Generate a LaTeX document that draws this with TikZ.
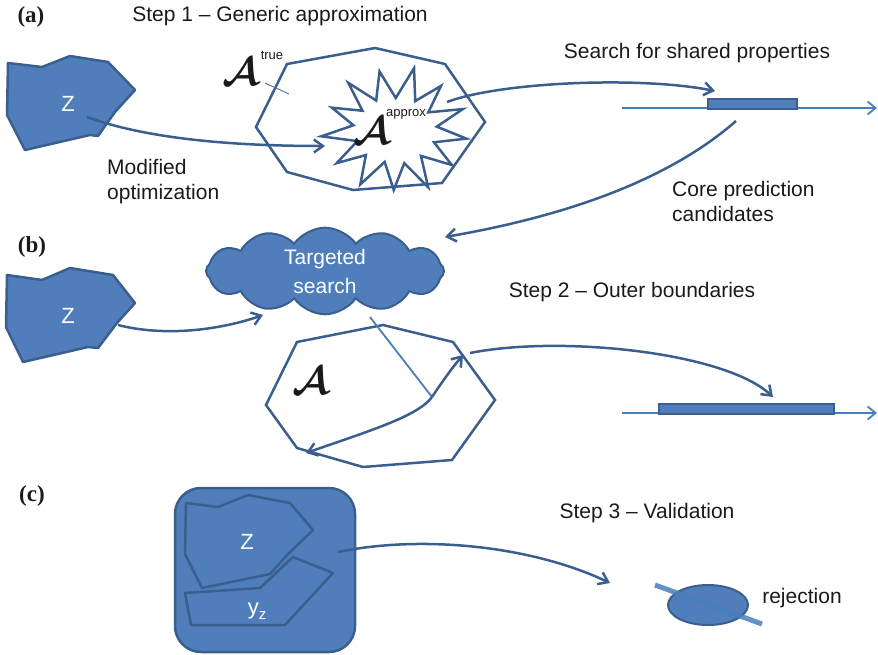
\documentclass[tikz,border=0pt]{standalone}
\usepackage{fontspec}
\setmainfont{Liberation Sans}
\newfontfamily\serifbf{Liberation Serif}
\usetikzlibrary{arrows.meta,shapes.symbols,shapes.geometric,calc}
\definecolor{fillblue}{HTML}{4F7EBA}
\definecolor{edgeblue}{HTML}{3A5F8E}
\definecolor{lineblue}{HTML}{4A7EBB}
\definecolor{txt}{HTML}{1A1A1A}
\newcommand\bigcalA{\scalebox{1.6}{\boldmath$\mathcal{A}$}}
\tikzset{
  blob/.style={fill=fillblue, draw=edgeblue, line width=2.5pt, line join=round},
  outline/.style={draw=edgeblue, line width=2.5pt, line join=miter},
  conn/.style={draw=edgeblue, line width=2.5pt, -{Straight Barb[length=9pt,width=13pt]}},
  axisline/.style={draw=lineblue, line width=1.8pt, -{Straight Barb[length=8pt,width=13pt]}},
  barbox/.style={fill=fillblue, draw=edgeblue, line width=2pt},
  lbl/.style={font=\fontsize{21}{25}\selectfont, text=txt, inner sep=0pt},
  panel/.style={font=\serifbf\bfseries\fontsize{23}{26}\selectfont, text=txt, inner sep=0pt},
  wlbl/.style={text=white, font=\fontsize{22}{26}\selectfont, inner sep=0pt},
  calA/.style={font=\fontsize{24.88}{26}\selectfont, text=txt, inner sep=0pt},
  supl/.style={font=\fontsize{13}{15}\selectfont, text=txt, inner sep=0pt}
}
\begin{document}
\begin{tikzpicture}[x=1pt,y=-1pt]
\useasboundingbox (0,0) rectangle (878,654);

% ---------- (a) ----------
\node[panel] (pa) at (31,17) {(a)};
\node[lbl] (t1) at (280,16) {Step 1 – Generic approximation};

\draw[blob] (8,63) -- (42,67) -- (70,56) -- (108,62) -- (135,90) -- (115,112)
  -- (98,136) -- (90,135) -- (25,150) -- (7,115) -- cycle;
\node[wlbl] (za) at (68,104) {Z};
\coordinate (zastart) at (87,117);

\draw[outline] (287,64) -- (375,48) -- (445,64) -- (485,122) -- (442,183)
  -- (353,190) -- (287,172) -- (256,127) -- cycle;
\begin{scope}[shift={(395,130)}]
\draw[outline] (8:72 and 62) \foreach \k/\rx/\ry in {
   1/42/33, 2/70/60, 3/40/34, 4/74/64, 5/42/34, 6/68/60, 7/40/33, 8/72/62,
   9/43/34, 10/70/60, 11/40/33, 12/74/62, 13/42/34, 14/68/60, 15/40/33,
   16/72/62, 17/42/33, 18/70/60, 19/40/32, 20/74/64, 21/42/33, 22/68/60,
   23/40/32, 24/72/62, 25/42/33} {
  -- ({8+\k*180/13}:\rx\space and \ry) } -- cycle;
\end{scope}

\node[calA] (atrue) at (241,72) {\bigcalA};
\node[supl] (atruesup) at (272,55) {true};
\coordinate (tl1) at (265,83);
\coordinate (tl2) at (289,94);
\draw[lineblue, line width=1pt] (tl1) -- (tl2);

\node[calA] (aapprox) at (372,131) {\bigcalA};
\node[supl] (aapproxsup) at (406,114) {approx};

\coordinate (starin) at (325,146);
\draw[conn] (zastart) .. controls (150,140) and (240,146) .. (starin);
\node[lbl, anchor=west, align=left] (mod) at (107,182) {Modified\\optimization};

\node[lbl] (search) at (697,53) {Search for shared properties};
\coordinate (ax1s) at (622,108);
\coordinate (ax1e) at (877,108);
\draw[axisline] (ax1s) -- (ax1e);
\draw[barbox] (708,99) rectangle (797,109);
\coordinate (starout) at (447,102);
\coordinate (bar1in) at (715,91);
\draw[conn] (starout) .. controls (500,82) and (640,76) .. (bar1in);

\coordinate (bar1out) at (736,121);
\coordinate (cloudin) at (445,237);
\draw[conn] (bar1out) .. controls (680,170) and (590,212) .. (cloudin);
\node[lbl, anchor=west, align=left] (core) at (672,201) {Core prediction\\candidates};

% ---------- (b) ----------
\node[panel] (pb) at (32,247) {(b)};
\draw[blob] (7,275) -- (42,280) -- (70,268) -- (113,275) -- (135,303) -- (117,323)
  -- (98,348) -- (88,347) -- (23,362) -- (6,327) -- cycle;
\node[wlbl] (zb) at (68,316) {Z};
\coordinate (zbstart) at (118,325);

\node[cloud, cloud puffs=12, cloud puff arc=110, cloud ignores aspect,
      minimum width=238pt, minimum height=84pt, fill=fillblue, draw=edgeblue,
      line width=2pt, align=center, text=white, font=\fontsize{21}{29}\selectfont]
      (cloud) at (325,271) {Targeted\\search};
\coordinate (cloudleft) at (263,315);
\draw[conn] (zbstart) .. controls (165,337) and (220,330) .. (cloudleft);

\node[lbl] (t2) at (632,292) {Step 2 – Outer boundaries};

\draw[outline] (297,342) -- (383,325) -- (453,342) -- (495,400) -- (452,460)
  -- (363,467) -- (297,448) -- (266,405) -- cycle;
\node[calA] (ab) at (311,381) {\bigcalA};

\coordinate (cloudbot) at (370,317);
\coordinate (hub) at (432,397);
\draw[lineblue, line width=1.8pt] (cloudbot) -- (hub);
\coordinate (hubtop) at (463,355);
\coordinate (hubleft) at (306,453);
\draw[conn] (hub) .. controls (442,382) and (452,368) .. (hubtop);
\draw[conn] (hub) .. controls (418,416) and (372,430) .. (hubleft);

\coordinate (hexout) at (470,353);
\coordinate (bar2in) at (773,397);
\draw[conn] (hexout) .. controls (560,335) and (725,352) .. (bar2in);
\coordinate (ax2s) at (622,413);
\coordinate (ax2e) at (877,413);
\draw[axisline] (ax2s) -- (ax2e);
\draw[barbox] (659,404) rectangle (834,414);

% ---------- (c) ----------
\node[panel] (pc) at (32,496) {(c)};
\draw[blob, rounded corners=26pt] (175,488) rectangle (355,652);
\draw[blob] (186,503) -- (218,507) -- (248,495) -- (290,503) -- (313,530)
  -- (288,554) -- (270,574) -- (202,588) -- (185,554) -- cycle;
\draw[blob] (185,593) -- (260,588) -- (293,557) -- (333,573) -- (285,625)
  -- (191,625) -- cycle;
\node[wlbl] (zc) at (247,542) {Z};
\node[wlbl] (yz) at (257,611) {y\raisebox{-5pt}{\fontsize{15}{15}\selectfont z}};

\coordinate (sqout) at (338,552);
\coordinate (ellin) at (610,583);
\draw[conn] (sqout) .. controls (420,535) and (530,545) .. (ellin);
\node[lbl] (t3) at (647,513) {Step 3 – Validation};

\node[ellipse, draw=edgeblue, fill=fillblue, line width=2pt,
      minimum width=80pt, minimum height=40pt, inner sep=0pt] (ell) at (708,605) {};
\coordinate (rl1) at (655,585);
\coordinate (rl2) at (762,624);
\draw[lineblue, line width=5pt, opacity=0.85] (rl1) -- (rl2);
\node[lbl] (rej) at (802,598) {rejection};
\end{tikzpicture}
\end{document}
